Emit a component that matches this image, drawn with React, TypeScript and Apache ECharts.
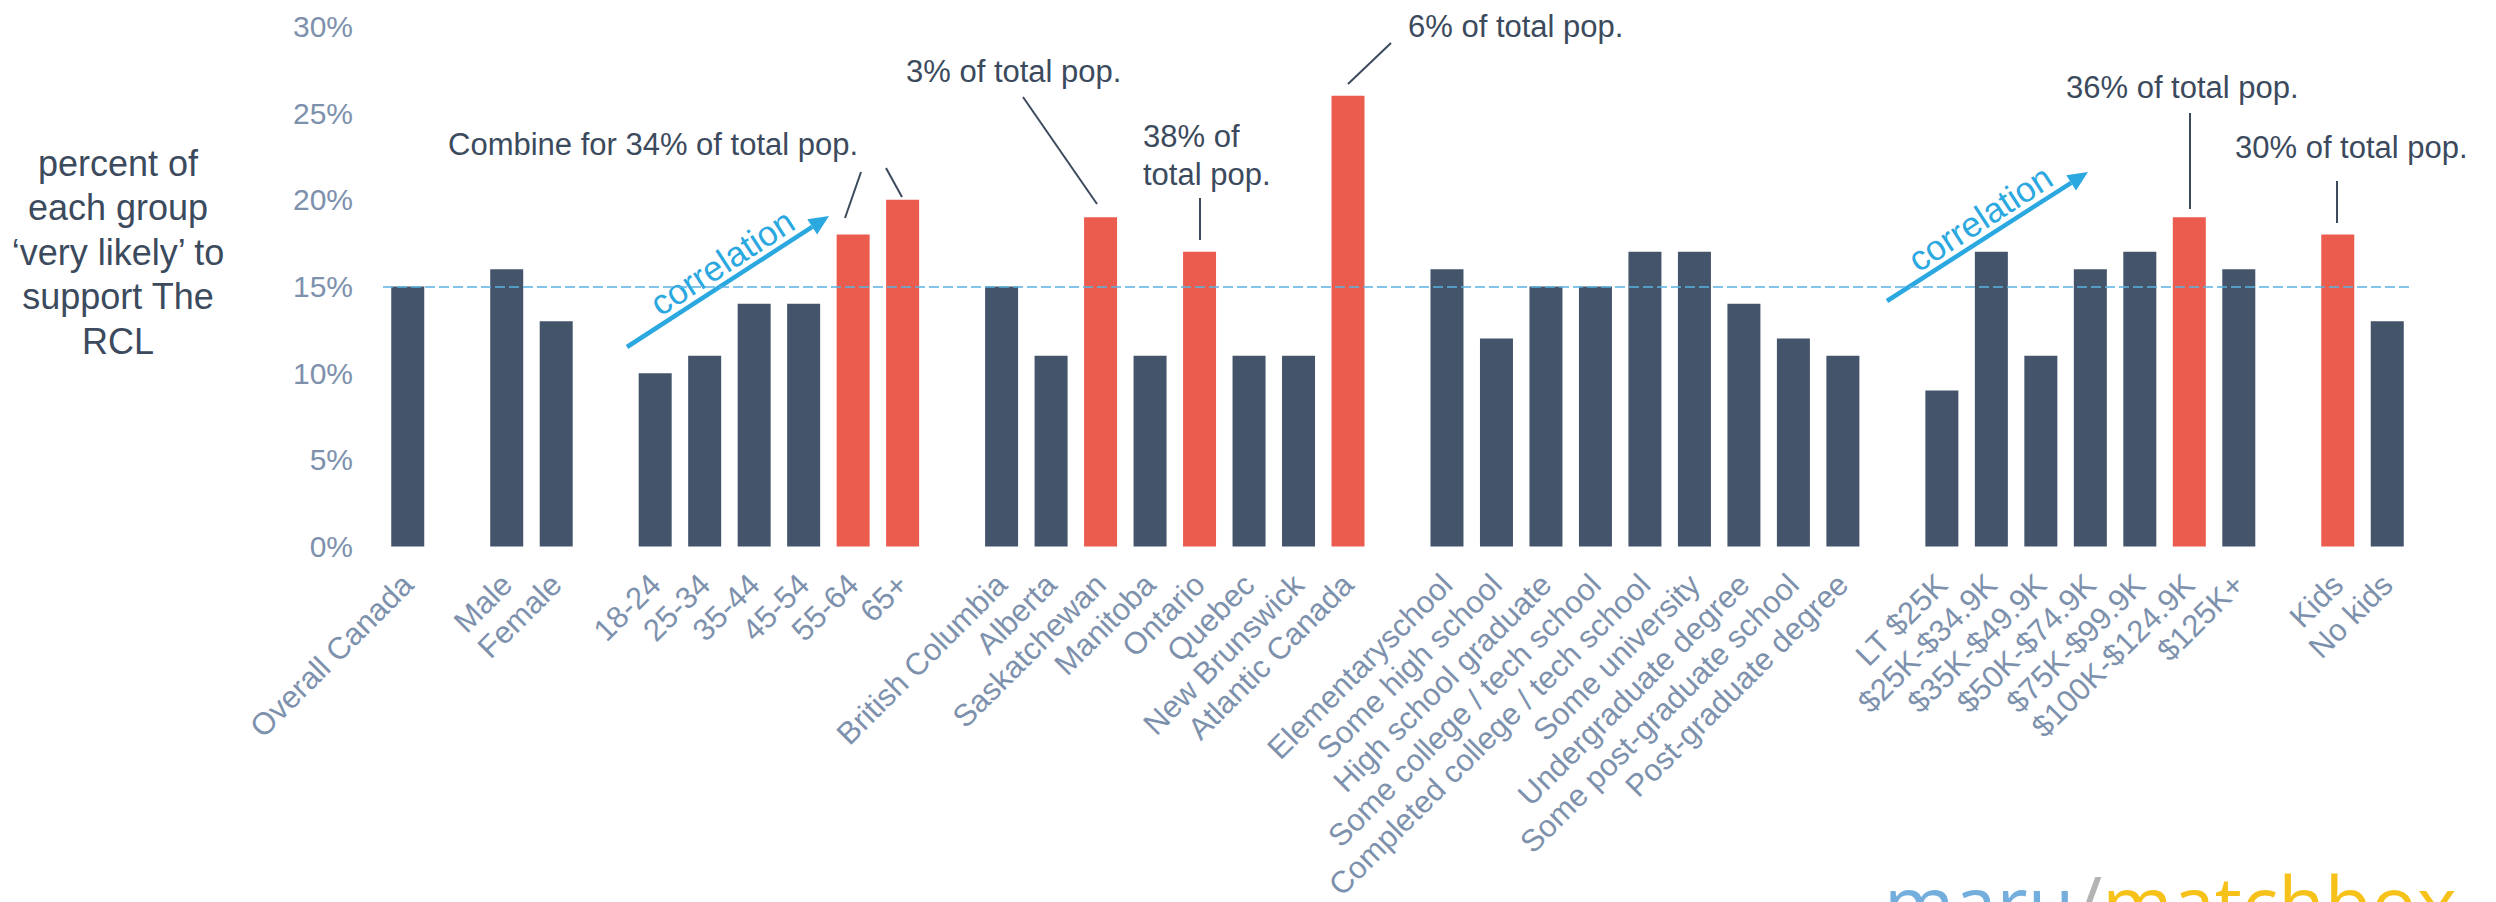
import React, { useEffect, useRef } from "react";
import * as echarts from "echarts";

const categories = [
  "Overall Canada", "", "Male", "Female", "",
  "18-24", "25-34", "35-44", "45-54", "55-64", "65+", "",
  "British Columbia", "Alberta", "Saskatchewan", "Manitoba", "Ontario", "Quebec", "New Brunswick", "Atlantic Canada", "",
  "Elementaryschool", "Some high school", "High school graduate", "Some college / tech school", "Completed college / tech school", "Some university", "Undergraduate degree", "Some post-graduate school", "Post-graduate degree", "",
  "LT $25K", "$25K-$34.9K", "$35K-$49.9K", "$50K-$74.9K", "$75K-$99.9K", "$100K-$124.9K", "$125K+", "",
  "Kids", "No kids",
];

const values = [
  15, null, 16, 13, null,
  10, 11, 14, 14, 18, 20, null,
  15, 11, 19, 11, 17, 11, 11, 26, null,
  16, 12, 15, 15, 17, 17, 14, 12, 11, null,
  9, 17, 11, 16, 17, 19, 16, null,
  18, 13,
];

const highlighted = ["55-64", "65+", "Saskatchewan", "Ontario", "Atlantic Canada", "$100K-$124.9K", "Kids"];

const averageLine = 15;
const yTicks = { min: 0, max: 30, interval: 5 };

const yTitle = "percent of\neach group\n\u2018very likely\u2019 to\nsupport The\nRCL";
const notes = [
  "Combine for 34% of total pop.",
  "3% of total pop.",
  "38% of\ntotal pop.",
  "6% of total pop.",
  "36% of total pop.",
  "30% of total pop.",
];
const trendLabel = "correlation";

const DARK = "#44546a";
const RED = "#eb5c4e";
const AXIS_TXT = "#7d91ad";
const NOTE = "#3c4a5d";
const BLUE = "#2ba8e0";
const FONT = "'Liberation Sans', Arial, sans-serif";
const LOGO_FONT = "'Open Sans', sans-serif";

function arrow(x1: number, y1: number, x2: number, y2: number) {
  const dx = x2 - x1, dy = y2 - y1;
  const len = Math.sqrt(dx * dx + dy * dy);
  const ux = dx / len, uy = dy / len;
  const hl = 20, hw = 9;
  const bx = x2 - ux * hl, by = y2 - uy * hl;
  const px = -uy, py = ux;
  return [
    { type: "line", shape: { x1, y1, x2: bx, y2: by }, style: { stroke: BLUE, lineWidth: 4.5 } },
    {
      type: "polygon",
      shape: { points: [[x2, y2], [bx + px * hw, by + py * hw], [bx - px * hw, by - py * hw]] },
      style: { fill: BLUE },
    },
  ];
}

function leader(x1: number, y1: number, x2: number, y2: number) {
  return { type: "line", shape: { x1, y1, x2, y2 }, style: { stroke: NOTE, lineWidth: 2 } };
}

function note(text: string, x: number, y: number) {
  return {
    type: "text",
    x,
    y,
    style: { text, fill: NOTE, font: `31px ${FONT}`, textAlign: "left", textVerticalAlign: "middle", lineHeight: 38 },
  };
}

export default function App() {
  const ref = useRef<HTMLDivElement>(null);
  useEffect(() => {
    if (!ref.current) return;
    const chart = echarts.init(ref.current, undefined, { renderer: "svg" });
    const data = values.map((v, i) => ({
      value: v,
      itemStyle: { color: highlighted.includes(categories[i]) ? RED : DARK },
    }));
    const rot = (33 * Math.PI) / 180;
    chart.setOption({
      animation: false,
      backgroundColor: "#ffffff",
      grid: { left: 383, right: 84, top: 26.5, bottom: 355.5, containLabel: false, outerBoundsMode: "none" },
      xAxis: {
        type: "category",
        data: categories,
        axisLine: { show: false },
        axisTick: { show: false },
        axisLabel: {
          interval: 0,
          rotate: 45,
          color: AXIS_TXT,
          fontSize: 31,
          fontFamily: FONT,
          margin: 33,
        },
      },
      yAxis: {
        type: "value",
        min: yTicks.min,
        max: yTicks.max,
        interval: yTicks.interval,
        axisLine: { show: false },
        axisTick: { show: false },
        splitLine: { show: false },
        axisLabel: { formatter: "{value}%", color: AXIS_TXT, fontSize: 30, fontFamily: FONT, margin: 30 },
      },
      series: [
        {
          type: "bar",
          data,
          barWidth: 33,
          markLine: {
            silent: true,
            symbol: ["none", "none"],
            label: { show: false },
            lineStyle: { color: "#5ab3e2", width: 1.5, type: [10, 4] },
            data: [{ yAxis: averageLine }],
          },
        },
      ],
      graphic: [
        {
          type: "text",
          x: 118,
          y: 252,
          style: {
            text: yTitle,
            fill: NOTE,
            font: `36px ${FONT}`,
            textAlign: "center",
            textVerticalAlign: "middle",
            lineHeight: 44.5,
          },
        },
        note(notes[0], 448, 144),
        note(notes[1], 906, 71),
        note(notes[2], 1143, 155),
        note(notes[3], 1408, 26),
        note(notes[4], 2066, 87),
        note(notes[5], 2235, 147),
        leader(861, 172, 845, 218),
        leader(886, 168, 902, 197),
        leader(1023, 97, 1097, 204),
        leader(1200, 198, 1200, 240),
        leader(1391, 43, 1348, 84),
        leader(2190, 113, 2190, 209),
        leader(2337, 181, 2337, 223),
        ...arrow(627, 347, 829, 216),
        ...arrow(1887, 301, 2088, 172),
        {
          type: "text",
          x: 722,
          y: 262,
          rotation: rot,
          style: { text: trendLabel, fill: BLUE, font: `35px ${FONT}`, textAlign: "center", textVerticalAlign: "middle" },
        },
        {
          type: "text",
          x: 1980,
          y: 218,
          rotation: rot,
          style: { text: trendLabel, fill: BLUE, font: `35px ${FONT}`, textAlign: "center", textVerticalAlign: "middle" },
        },
        {
          type: "text",
          x: 1884,
          y: 864,
          style: {
            text: "{a|maru}{b|/}{c|matchbox}",
            textVerticalAlign: "top",
            rich: {
              a: { fill: "#74aedd", fontSize: 76, fontFamily: LOGO_FONT },
              b: { fill: "#b3b3b3", fontSize: 76, fontFamily: LOGO_FONT },
              c: { fill: "#f6c21a", fontSize: 76, fontFamily: LOGO_FONT },
            },
          },
        },
      ],
    });
    return () => chart.dispose();
  }, []);
  return (
    <div
      ref={ref}
      style={{ position: "fixed", left: 0, top: 0, width: 2496, height: 902, background: "#fff" }}
    />
  );
}
